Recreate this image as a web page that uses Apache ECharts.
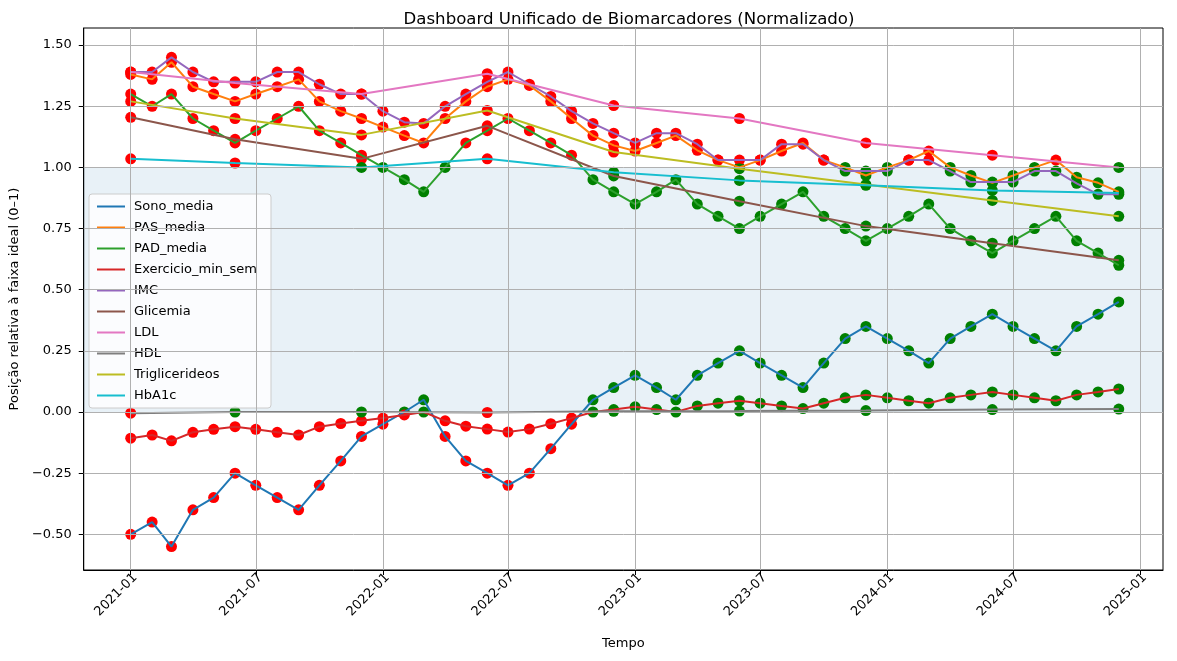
<!DOCTYPE html>
<html>
<head>
<meta charset="utf-8">
<title>Dashboard Unificado de Biomarcadores</title>
<script src="https://cdn.jsdelivr.net/npm/echarts@6/dist/echarts.min.js"></script>
<style>
  html, body { margin: 0; padding: 0; background: #fff; }
  #chart { width: 1177px; height: 661px; }
</style>
</head>
<body>
<div id="chart"></div>
<script>
// monthly measurements
const months = [
  '2021-01', '2021-02', '2021-03', '2021-04', '2021-05', '2021-06', '2021-07', '2021-08', '2021-09', '2021-10', '2021-11', '2021-12',
  '2022-01', '2022-02', '2022-03', '2022-04', '2022-05', '2022-06', '2022-07', '2022-08', '2022-09', '2022-10', '2022-11', '2022-12',
  '2023-01', '2023-02', '2023-03', '2023-04', '2023-05', '2023-06', '2023-07', '2023-08', '2023-09', '2023-10', '2023-11', '2023-12',
  '2024-01', '2024-02', '2024-03', '2024-04', '2024-05', '2024-06', '2024-07', '2024-08', '2024-09', '2024-10', '2024-11', '2024-12'
]
// lab exams, every ~6 months
const examMonths = ['2021-01', '2021-06', '2021-12', '2022-06', '2022-12', '2023-06', '2023-12', '2024-06', '2024-12']

const sonoMedia = [
  -0.50, -0.45, -0.55, -0.40, -0.35, -0.25, -0.30, -0.35, -0.40, -0.30, -0.20, -0.10,
  -0.05, 0.00, 0.05, -0.10, -0.20, -0.25, -0.30, -0.25, -0.15, -0.05, 0.05, 0.10,
  0.15, 0.10, 0.05, 0.15, 0.20, 0.25, 0.20, 0.15, 0.10, 0.20, 0.30, 0.35,
  0.30, 0.25, 0.20, 0.30, 0.35, 0.40, 0.35, 0.30, 0.25, 0.35, 0.40, 0.45
]
const pasMedia = [
  1.38, 1.36, 1.43, 1.33, 1.30, 1.27, 1.30, 1.33, 1.36, 1.27, 1.23, 1.20,
  1.165, 1.13, 1.10, 1.20, 1.27, 1.33, 1.36, 1.335, 1.27, 1.20, 1.13, 1.09,
  1.067, 1.10, 1.13, 1.07, 1.03, 1.00, 1.03, 1.067, 1.10, 1.03, 1.00, 0.967,
  1.00, 1.03, 1.067, 1.00, 0.967, 0.937, 0.967, 1.00, 1.03, 0.96, 0.937, 0.90
]
const padMedia = [
  1.30, 1.25, 1.30, 1.20, 1.15, 1.10, 1.15, 1.20, 1.25, 1.15, 1.10, 1.05,
  1.00, 0.95, 0.90, 1.00, 1.10, 1.15, 1.20, 1.15, 1.10, 1.05, 0.95, 0.90,
  0.85, 0.90, 0.95, 0.85, 0.80, 0.75, 0.80, 0.85, 0.90, 0.80, 0.75, 0.70,
  0.75, 0.80, 0.85, 0.75, 0.70, 0.65, 0.70, 0.75, 0.80, 0.70, 0.65, 0.60
]
const exercicioMinSem = [
  -0.107, -0.094, -0.118, -0.083, -0.071, -0.060, -0.071, -0.083, -0.094, -0.060, -0.047, -0.036,
  -0.025, -0.012, 0.000, -0.036, -0.058, -0.070, -0.082, -0.070, -0.048, -0.025, 0.000, 0.010,
  0.021, 0.010, 0.000, 0.025, 0.036, 0.046, 0.036, 0.025, 0.014, 0.036, 0.058, 0.070,
  0.058, 0.046, 0.036, 0.058, 0.070, 0.082, 0.070, 0.058, 0.046, 0.070, 0.082, 0.094
]
const imc = [
  1.39, 1.39, 1.45, 1.39, 1.35, 1.35, 1.35, 1.39, 1.39, 1.34, 1.30, 1.30,
  1.23, 1.185, 1.18, 1.25, 1.30, 1.35, 1.39, 1.34, 1.29, 1.23, 1.18, 1.14,
  1.10, 1.14, 1.14, 1.095, 1.03, 1.03, 1.03, 1.095, 1.095, 1.03, 0.985, 0.985,
  0.985, 1.03, 1.03, 0.985, 0.94, 0.94, 0.94, 0.985, 0.985, 0.935, 0.89, 0.89
]
const glicemia = [1.205, 1.115, 1.035, 1.17, 0.965, 0.862, 0.76, 0.69, 0.62]
const ldl = [1.39, 1.345, 1.30, 1.383, 1.253, 1.20, 1.10, 1.05, 1.00]
const hdl = [-0.005, 0.000, 0.000, -0.002, 0.003, 0.004, 0.006, 0.010, 0.012]
const triglicerideos = [1.27, 1.20, 1.133, 1.233, 1.063, 0.995, 0.93, 0.865, 0.80]
const hba1c = [1.035, 1.018, 1.00, 1.035, 0.98, 0.947, 0.927, 0.906, 0.895]

const yTicks = [-0.5, -0.25, 0, 0.25, 0.5, 0.75, 1.0, 1.25, 1.5]
const xTickMonths = ['2021-01', '2021-07', '2022-01', '2022-07', '2023-01', '2023-07', '2024-01', '2024-07', '2025-01']

const DAY = 24 * 3600 * 1000
const toTime = (m) => new Date(m + '-01T00:00:00').getTime()

const biomarkers = [
  { name: 'Sono_media', color: '#1f77b4', dates: months, values: sonoMedia },
  { name: 'PAS_media', color: '#ff7f0e', dates: months, values: pasMedia },
  { name: 'PAD_media', color: '#2ca02c', dates: months, values: padMedia },
  { name: 'Exercicio_min_sem', color: '#d62728', dates: months, values: exercicioMinSem },
  { name: 'IMC', color: '#9467bd', dates: months, values: imc },
  { name: 'Glicemia', color: '#8c564b', dates: examMonths, values: glicemia },
  { name: 'LDL', color: '#e377c2', dates: examMonths, values: ldl },
  { name: 'HDL', color: '#7f7f7f', dates: examMonths, values: hdl },
  { name: 'Triglicerideos', color: '#bcbd22', dates: examMonths, values: triglicerideos },
  { name: 'HbA1c', color: '#17becf', dates: examMonths, values: hba1c }
]

const toPairs = (b) => b.dates.map((m, i) => [toTime(m), b.values[i]])

// x limits a bit outside the data, as in the original plot
const xMin = toTime(months[0]) - 68 * DAY
const xMax = toTime(months[months.length - 1]) + 64 * DAY

const pad2 = (n) => (n < 10 ? '0' : '') + n
const fmtMonth = (v) => {
  const d = new Date(v)
  return d.getFullYear() + '-' + pad2(d.getMonth() + 1)
}

const font = 'DejaVu Sans, sans-serif'

// helper: band 0..1 plus grid lines
const helperSeries = {
  name: '_grid',
  type: 'line',
  data: toPairs(biomarkers[0]),
  showSymbol: false,
  lineStyle: { opacity: 0 },
  silent: true,
  z: 1,
  markArea: {
    silent: true,
    itemStyle: { color: 'rgba(31, 119, 180, 0.1)' },
    data: [[{ yAxis: 0 }, { yAxis: 1 }]]
  },
  markLine: {
    silent: true,
    symbol: ['none', 'none'],
    label: { show: false },
    lineStyle: { color: '#b0b0b0', width: 1, type: 'solid' },
    data: [
      ...yTicks.map(v => ({ yAxis: v })),
      ...xTickMonths.map(m => ({ xAxis: toTime(m) }))
    ]
  }
}

const scatterSeries = biomarkers.map(b => ({
  name: b.name + '_pts',
  type: 'scatter',
  data: toPairs(b),
  symbolSize: 11,
  z: 2,
  itemStyle: {
    opacity: 1,
    color: (p) => (p.value[1] < 0 || p.value[1] > 1) ? '#ff0000' : '#008000'
  }
}))

const lineSeries = biomarkers.map(b => ({
  name: b.name,
  type: 'line',
  data: toPairs(b),
  showSymbol: false,
  symbol: 'none',
  z: 3,
  color: b.color,
  lineStyle: { width: 2, color: b.color }
}))

const chart = echarts.init(document.getElementById('chart'))

const option = {
  animation: false,
  backgroundColor: '#fff',
  textStyle: { fontFamily: font },
  title: {
    text: 'Dashboard Unificado de Biomarcadores (Normalizado)',
    left: 624,
    top: 6,
    textAlign: 'center',
    textStyle: { fontSize: 16.6, fontWeight: 'normal', color: '#000', fontFamily: font }
  },
  legend: {
    data: biomarkers.map(b => b.name),
    orient: 'vertical',
    left: 89,
    top: 194,
    padding: [5, 14, 5, 8],
    itemGap: 6,
    itemWidth: 28,
    itemHeight: 2,
    icon: 'rect',
    backgroundColor: 'rgba(255, 255, 255, 0.8)',
    borderColor: '#cccccc',
    borderWidth: 1,
    borderRadius: 3,
    textStyle: { fontSize: 13, color: '#000', fontFamily: font, lineHeight: 15, padding: [0, 0, 0, 4] }
  },
  grid: {
    left: 83,
    right: 14,
    top: 28,
    bottom: 91,
    show: true,
    borderColor: '#000',
    borderWidth: 1,
    backgroundColor: 'transparent'
  },
  xAxis: {
    type: 'value',
    min: xMin,
    max: xMax,
    name: 'Tempo',
    nameLocation: 'middle',
    nameGap: 67,
    nameTextStyle: { fontSize: 13, color: '#000', fontFamily: font },
    axisLine: { show: true, onZero: false, lineStyle: { color: '#000', width: 1 } },
    axisTick: { show: true, length: 5, customValues: xTickMonths.map(toTime), lineStyle: { color: '#000' } },
    axisLabel: {
      customValues: xTickMonths.map(toTime),
      rotate: 45,
      verticalAlign: 'top',
      fontSize: 13,
      color: '#000',
      fontFamily: font,
      margin: 1,
      formatter: (v) => fmtMonth(v)
    },
    splitLine: { show: false }
  },
  yAxis: {
    type: 'value',
    min: -0.646,
    max: 1.57,
    name: 'Posição relativa à faixa ideal (0–1)',
    nameLocation: 'middle',
    nameGap: 62,
    nameRotate: 90,
    nameTextStyle: { fontSize: 13, color: '#000', fontFamily: font },
    axisLine: { show: true, onZero: false, lineStyle: { color: '#000', width: 1 } },
    axisTick: { show: true, length: 5, customValues: yTicks, lineStyle: { color: '#000' } },
    axisLabel: {
      customValues: yTicks,
      fontSize: 13,
      color: '#000',
      fontFamily: font,
      margin: 12,
      formatter: (v) => v.toFixed(2).replace('-', '\u2212')
    },
    splitLine: { show: false }
  },
  series: [helperSeries, ...scatterSeries, ...lineSeries]
}

chart.setOption(option)
</script>
</body>
</html>
